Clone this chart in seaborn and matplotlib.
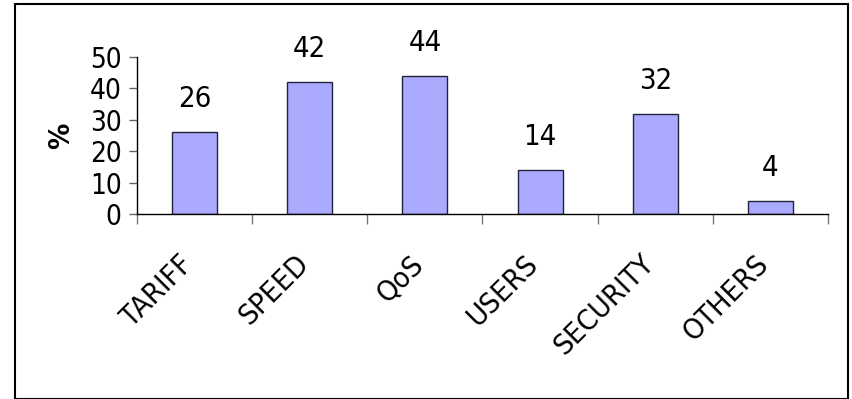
import matplotlib
matplotlib.use("Agg")
import matplotlib.pyplot as plt
from matplotlib.patches import Rectangle
from matplotlib.ticker import FixedLocator
import seaborn as sns
import pandas as pd

categories = ["TARIFF", "SPEED", "QoS", "USERS", "SECURITY", "OTHERS"]
values = [26, 42, 44, 14, 32, 4]

sns.set_theme(style="white")
plt.rcParams["font.family"] = ["DejaVu Sans"]
plt.rcParams["font.stretch"] = "condensed"
plt.rcParams["text.color"] = "black"
plt.rcParams["xtick.color"] = "black"
plt.rcParams["ytick.color"] = "black"
plt.rcParams["axes.labelcolor"] = "black"

df = pd.DataFrame({"category": categories, "value": values})

fig = plt.figure(figsize=(8.53, 3.99), dpi=100)
ax = fig.add_axes([137 / 853, 1 - 214 / 399, (828 - 137) / 853, (214 - 57) / 399])

sns.barplot(data=df, x="category", y="value", color="#AAAAFF", saturation=1,
            width=0.39, edgecolor="#22223a", linewidth=1.0, ax=ax)

ax.set_xlim(-0.5, len(categories) - 0.5)
ax.set_ylim(0, 50)
ax.set_yticks([0, 10, 20, 30, 40, 50])

# value labels above each bar
for i, v in enumerate(values):
    ax.annotate(str(v), xy=(i, v), xytext=(0, 18), textcoords="offset points",
                ha="center", va="baseline", fontsize=21, color="black")

ax.set_xlabel("")
ax.set_ylabel("%", fontsize=21, fontweight="bold", va="center")
ax.yaxis.set_label_coords(-76 / 691, 0.5)

for side in ("top", "right"):
    ax.spines[side].set_visible(False)
for side in ("left", "bottom"):
    ax.spines[side].set_color("black")
    ax.spines[side].set_linewidth(1.0)

ax.tick_params(axis="y", which="major", direction="out", length=6, width=1,
               color="#666666", labelcolor="black", labelsize=20, pad=5, left=True)
ax.tick_params(axis="x", which="major", length=0, labelsize=21, labelcolor="black", pad=37)
# tick marks sit between the categories
ax.xaxis.set_minor_locator(FixedLocator([i - 0.5 for i in range(len(categories) + 1)]))
ax.tick_params(axis="x", which="minor", direction="out", length=7, width=1,
               color="#777777", bottom=True)

for lbl in ax.get_xticklabels():
    lbl.set_rotation(45)
    lbl.set_ha("right")
    lbl.set_va("baseline")
    lbl.set_rotation_mode("anchor")

# frame around the whole chart
fig.patches.append(Rectangle((15 / 853, 0.0 / 399), (848 - 15) / 853, (395 - 0) / 399,
                             transform=fig.transFigure, fill=False,
                             edgecolor="black", linewidth=1.5))

fig.savefig("out.png", dpi=100, facecolor="white")
